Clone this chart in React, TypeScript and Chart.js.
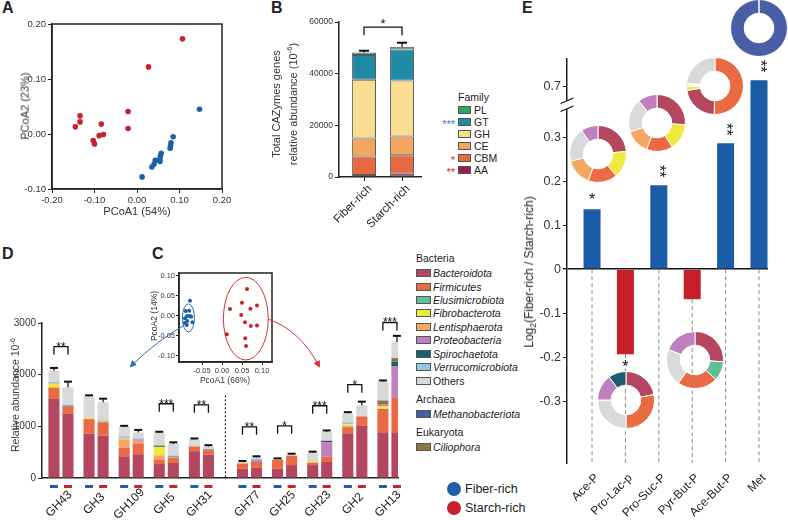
import React, { useEffect, useRef } from "react";
import { Chart, registerables } from "chart.js";

Chart.register(...registerables);

const FONT = "'Liberation Sans', Arial, Helvetica, sans-serif";
Chart.defaults.font.family = FONT;
Chart.defaults.color = "#222";

const FIBER = "#1f5fa9";
const STARCH = "#c8202c";
const E_BLUE = "#1b5ca6";
const E_RED = "#c52029";

// ---------- Panel A ----------
const aFiberX = [0.147, 0.085, 0.080, 0.079, 0.078, 0.057, 0.055, 0.054, 0.054, 0.043, 0.040, 0.035, 0.012];
const aFiberY = [0.045, -0.005, -0.016, -0.021, -0.026, -0.035, -0.040, -0.045, -0.050, -0.048, -0.055, -0.060, -0.078];
const aStarchX = [0.107, 0.027, -0.021, -0.021, -0.134, -0.134, -0.145, -0.084, -0.089, -0.079, -0.103, -0.100];
const aStarchY = [0.173, 0.122, 0.041, 0.010, 0.033, 0.022, 0.013, 0.018, -0.003, -0.001, -0.012, -0.018];
const aTicksX = [-0.2, -0.1, 0, 0.1, 0.2];
const aTicksY = [-0.1, 0, 0.1, 0.2];

// ---------- Panel B ----------
const bGroups = ["Fiber-rich", "Starch-rich"];
const bAA = [780, 1290];
const bCBM = [7110, 7110];
const bCE = [6980, 7250];
const bGH = [22760, 21720];
const bGT = [9570, 12030];
const bPL = [1030, 1030];
const bErr = [650, 1550];
const bSig = "*";
const bSigHeight = 58000;
const bFamilies = ["PL", "GT", "GH", "CE", "CBM", "AA"];
const bFamilyStars = ["", "***", "", "", "*", "**"];
const bFamilyStarColor = ["", "#3b78c4", "", "", "#d8262f", "#d8262f"];
const FAM_COLOR = { AA: "#9d1c4b", CBM: "#e8683f", CE: "#f4a661", GH: "#f9dd91", GT: "#1f8ba6", PL: "#2aa862" };

// ---------- Panel C ----------
const cFiberX = [-0.080, -0.091, -0.082, -0.087, -0.080, -0.077, -0.0925, -0.087, -0.074, -0.093, -0.088];
const cFiberY = [0.0375, 0.0125, 0.013, 0, 0, -0.002, -0.006, -0.0125, -0.016, -0.018, -0.0225];
const cStarchX = [0.0625, 0.05, 0.071, 0.0875, 0.02, 0.048, 0.0575, 0.072, 0.0875, 0.012, 0.058, 0.06];
const cStarchY = [0.067, 0.0325, 0.018, 0.026, 0.017, 0.002, -0.016, -0.025, -0.024, -0.046, -0.056, -0.075];
const cEllipseFiber = [-0.084, -0.005, 0.015, 0.035];
const cEllipseStarch = [0.0595, -0.007, 0.056, 0.103];
const cTicksX = [-0.05, 0, 0.05, 0.1];
const cTicksY = [-0.1, -0.05, 0, 0.05, 0.1];

// ---------- Panel D ----------
const dGroups = ["GH43", "GH3", "GH109", "GH5", "GH31", "GH77", "GH25", "GH23", "GH2", "GH13"];
const dBactF = [1530, 860, 420, 270, 520, 180, 180, 250, 866, 886];
const dBactS = [1240, 820, 460, 290, 450, 200, 250, 310, 1008, 886];
const dFirmF = [220, 280, 170, 90, 80, 100, 170, 40, 117, 452];
const dFirmS = [145, 260, 210, 100, 90, 110, 180, 100, 182, 678];
const dElusF = [0, 0, 0, 0, 0, 0, 0, 0, 0, 0];
const dElusS = [0, 0, 0, 0, 0, 0, 0, 0, 0, 0];
const dLentiF = [0, 0, 160, 80, 20, 0, 0, 15, 32, 0];
const dLentiS = [0, 0, 50, 20, 0, 0, 0, 0, 0, 0];
const dFibroF = [80, 20, 15, 150, 0, 10, 0, 20, 25, 50];
const dFibroS = [0, 15, 0, 0, 0, 0, 0, 0, 0, 0];
const dProteoF = [0, 0, 15, 0, 0, 0, 0, 0, 0, 42];
const dProteoS = [0, 0, 30, 0, 0, 30, 0, 285, 0, 595];
const dSpiroF = [10, 0, 0, 0, 0, 0, 0, 0, 0, 0];
const dSpiroS = [15, 10, 0, 10, 10, 10, 0, 25, 0, 91];
const dVerrF = [20, 0, 30, 10, 10, 0, 0, 0, 40, 0];
const dVerrS = [20, 10, 20, 20, 15, 20, 0, 0, 10, 0];
const dMethF = [0, 0, 0, 0, 0, 0, 0, 0, 0, 0];
const dMethS = [0, 0, 0, 0, 0, 0, 0, 0, 0, 0];
const dCilioF = [0, 0, 0, 30, 0, 0, 0, 0, 0, 70];
const dCilioS = [0, 0, 0, 0, 0, 0, 0, 0, 0, 70];
const dOthersF = [215, 420, 180, 250, 120, 25, 20, 170, 175, 368];
const dOthersS = [330, 350, 110, 220, 45, 30, 20, 170, 203, 311];
const dErrF = [55, 20, 20, 15, 15, 15, 10, 15, 20, 20];
const dErrS = [115, 70, 50, 30, 25, 20, 20, 30, 75, 120];
const dSig = ["**", "", "", "***", "**", "**", "*", "***", "*", "***"];
const dSigHeight = [2544, 0, 0, 1437, 1417, 990, 1010, 1398, 1806, 3010];
const dTicksY = [0, 1000, 2000, 3000];

const PHY = {
  Bacteroidota: "#b4475f",
  Firmicutes: "#ea6a43",
  Elusimicrobiota: "#5ebf96",
  Fibrobacterota: "#efe93b",
  Lentisphaerota: "#f6a862",
  Proteobacteria: "#bf80bf",
  Spirochaetota: "#1b5f6f",
  Verrucomicrobiota: "#93c6e7",
  Others: "#d9d9d9",
  Methanobacteriota: "#4a5ea8",
  Ciliophora: "#8b7541",
};

// stacking order bottom -> top
const dLayers = [
  ["Bacteroidota", dBactF, dBactS],
  ["Firmicutes", dFirmF, dFirmS],
  ["Elusimicrobiota", dElusF, dElusS],
  ["Lentisphaerota", dLentiF, dLentiS],
  ["Fibrobacterota", dFibroF, dFibroS],
  ["Proteobacteria", dProteoF, dProteoS],
  ["Spirochaetota", dSpiroF, dSpiroS],
  ["Verrucomicrobiota", dVerrF, dVerrS],
  ["Methanobacteriota", dMethF, dMethS],
  ["Ciliophora", dCilioF, dCilioS],
  ["Others", dOthersF, dOthersS],
];

const bacteriaLegend = ["Bacteroidota", "Firmicutes", "Elusimicrobiota", "Fibrobacterota", "Lentisphaerota", "Proteobacteria", "Spirochaetota", "Verrucomicrobiota", "Others"];

// ---------- Panel E ----------
const eCats = ["Ace-P", "Pro-Lac-p", "Pro-Suc-P", "Pyr-But-P", "Ace-But-P", "Met"];
const eValues = [0.136, -0.193, 0.191, -0.068, 0.286, 0.715];
const eSig = ["*", "*", "**", "", "**", "**"];
const eTicksLow = [-0.3, -0.2, -0.1, 0, 0.1, 0.2, 0.3];
const eTicksHigh = [0.7];

const donutAcePLabels = ["Bacteroidota", "Fibrobacterota", "Firmicutes", "Lentisphaerota", "Others", "Proteobacteria"];
const donutAcePValues = [23.6, 15.3, 16.7, 15.3, 19.4, 9.7];
const donutProLacLabels = ["Bacteroidota", "Firmicutes", "Others", "Proteobacteria", "Spirochaetota"];
const donutProLacValues = [22, 28, 25, 15, 10];
const donutProSucLabels = ["Bacteroidota", "Fibrobacterota", "Firmicutes", "Lentisphaerota", "Others", "Proteobacteria"];
const donutProSucValues = [26, 15, 15, 14, 19, 11];
const donutPyrButLabels = ["Bacteroidota", "Elusimicrobiota", "Firmicutes", "Others", "Proteobacteria"];
const donutPyrButValues = [26, 11, 23, 21, 19];
const donutAceButLabels = ["Firmicutes", "Bacteroidota", "Fibrobacterota", "Spirochaetota", "Verrucomicrobiota", "Proteobacteria", "Others"];
const donutAceButValues = [50.5, 22, 2.2, 0.8, 0.5, 0.8, 23.2];
const donutMetLabels = ["Methanobacteriota"];
const donutMetValues = [100];

// ---------- helpers ----------
const fmt2 = (v) => (Math.abs(v) < 1e-9 ? "0.00" : Number(v).toFixed(2));
const fmt1 = (v) => (Math.abs(v) < 1e-9 ? "0" : Number(v).toFixed(1));
const fmt0 = (v) => String(Math.round(v));
const setTicks = (list) => (axis) => {
  axis.ticks = list.map((value) => ({ value }));
};
const fixW = (w) => (s) => {
  s.width = w;
  s.paddingTop = 0;
  s.paddingBottom = 0;
};
const fixH = (h) => (s) => {
  s.height = h;
};
const BASE = {
  animation: false,
  responsive: false,
  events: [],
  plugins: { legend: { display: false }, tooltip: { enabled: false } },
};

const framePlugin = {
  id: "frame",
  afterDraw(chart) {
    const { ctx, chartArea: a } = chart;
    ctx.save();
    ctx.strokeStyle = "#222";
    ctx.lineWidth = 1.5;
    ctx.strokeRect(a.left, a.top, a.right - a.left, a.bottom - a.top);
    ctx.restore();
  },
};

function ChartBox({ x, y, w, h, config }) {
  const ref = useRef(null);
  useEffect(() => {
    const chart = new Chart(ref.current, config());
    return () => chart.destroy();
  }, []);
  return (
    <canvas
      ref={ref}
      width={w}
      height={h}
      style={{ position: "absolute", left: x, top: y, width: w, height: h }}
    />
  );
}

// ---------- configs ----------
const configA = () => ({
  type: "scatter",
  data: {
    datasets: [
      { data: aStarchX.map((v, i) => ({ x: v, y: aStarchY[i] })), backgroundColor: STARCH, borderWidth: 0, pointRadius: 2.8 },
      { data: aFiberX.map((v, i) => ({ x: v, y: aFiberY[i] })), backgroundColor: FIBER, borderWidth: 0, pointRadius: 2.8 },
    ],
  },
  options: {
    ...BASE,
    layout: { padding: { left: 0, top: 24, right: 18, bottom: 0 } },
    scales: {
      x: {
        type: "linear", min: -0.2, max: 0.2, afterBuildTicks: setTicks(aTicksX), afterFit: fixH(36),
        ticks: { callback: (v) => fmt2(v), font: { size: 9.5 }, color: "#333", padding: 2 },
        grid: { drawOnChartArea: false, tickLength: 4, color: "#222" },
        border: { color: "#222", width: 1.5 },
      },
      y: {
        type: "linear", min: -0.1, max: 0.2, afterBuildTicks: setTicks(aTicksY), afterFit: fixW(52),
        ticks: { callback: (v) => fmt2(v), font: { size: 9.5 }, color: "#333", padding: 2 },
        grid: { drawOnChartArea: false, tickLength: 4, color: "#222" },
        border: { color: "#222", width: 1.5 },
      },
    },
  },
  plugins: [framePlugin],
});

const bPlugin = {
  id: "bAnn",
  afterDatasetsDraw(chart) {
    const { ctx, scales: { y } } = chart;
    const meta = chart.getDatasetMeta(0);
    const layers = [bAA, bCBM, bCE, bGH, bGT, bPL];
    ctx.save();
    ctx.strokeStyle = "#111";
    const xs = meta.data.map((b) => b.x);
    xs.forEach((bx, i) => {
      const tot = layers.reduce((s, l) => s + l[i], 0);
      const y0 = y.getPixelForValue(tot);
      const y1 = y.getPixelForValue(tot + bErr[i]);
      ctx.lineWidth = 1.3;
      ctx.beginPath(); ctx.moveTo(bx, y0); ctx.lineTo(bx, y1); ctx.stroke();
      ctx.lineWidth = 2;
      ctx.beginPath(); ctx.moveTo(bx - 5, y1); ctx.lineTo(bx + 5, y1); ctx.stroke();
    });
    const yb = y.getPixelForValue(bSigHeight);
    ctx.lineWidth = 1.3;
    ctx.beginPath();
    ctx.moveTo(xs[0], yb + 8); ctx.lineTo(xs[0], yb); ctx.lineTo(xs[1], yb); ctx.lineTo(xs[1], yb + 8);
    ctx.stroke();
    ctx.fillStyle = "#111";
    ctx.font = `13px ${FONT}`;
    ctx.textAlign = "center";
    ctx.textBaseline = "alphabetic";
    ctx.fillText(bSig, (xs[0] + xs[1]) / 2, yb + 1);
    ctx.restore();
  },
};

const configB = () => {
  const fams = [["AA", bAA], ["CBM", bCBM], ["CE", bCE], ["GH", bGH], ["GT", bGT], ["PL", bPL]];
  return {
    type: "bar",
    data: {
      datasets: fams.map(([name, arr]) => ({
        label: name,
        data: arr.map((v, i) => ({ x: i, y: v })),
        backgroundColor: FAM_COLOR[name],
        borderColor: "#5a5a5a",
        borderWidth: 1,
        borderSkipped: false,
        barPercentage: 0.63,
        categoryPercentage: 1,
      })),
    },
    options: {
      ...BASE,
      layout: { padding: { left: 0, top: 22, right: 9, bottom: 0 } },
      scales: {
        x: {
          type: "linear", offset: false, stacked: true, min: -0.66, max: 1.5, afterBuildTicks: setTicks([0, 1]), afterFit: fixH(53),
          ticks: { callback: (v, i) => bGroups[i], autoSkip: false, minRotation: 45, maxRotation: 45, font: { size: 11.5 }, padding: 1, labelOffset: 6 },
          grid: { drawOnChartArea: false, offset: false, tickLength: 4, color: "#222" },
          border: { color: "#222", width: 1.5 },
        },
        y: {
          type: "linear", stacked: true, min: 0, max: 60000, afterFit: fixW(99),
          ticks: { stepSize: 20000, callback: (v) => fmt0(v), font: { size: 8.5 }, color: "#333", padding: 2 },
          grid: { drawOnChartArea: false, tickLength: 4, color: "#222" },
          border: { color: "#222", width: 1.5 },
        },
      },
    },
    plugins: [bPlugin],
  };
};

const cPlugin = {
  id: "cEll",
  afterDatasetsDraw(chart) {
    const { ctx, scales: { x, y } } = chart;
    ctx.save();
    [[cEllipseFiber, "#2a6fb8"], [cEllipseStarch, "#d3313a"]].forEach(([e, col]) => {
      const cx = x.getPixelForValue(e[0]);
      const cy = y.getPixelForValue(e[1]);
      const rx = x.getPixelForValue(e[0] + e[2]) - cx;
      const ry = cy - y.getPixelForValue(e[1] + e[3]);
      ctx.strokeStyle = col;
      ctx.lineWidth = 1;
      ctx.beginPath();
      ctx.ellipse(cx, cy, rx, ry, 0, 0, Math.PI * 2);
      ctx.stroke();
    });
    ctx.restore();
  },
};

const configC = () => ({
  type: "scatter",
  data: {
    datasets: [
      { data: cFiberX.map((v, i) => ({ x: v, y: cFiberY[i] })), backgroundColor: FIBER, borderWidth: 0, pointRadius: 2 },
      { data: cStarchX.map((v, i) => ({ x: v, y: cStarchY[i] })), backgroundColor: STARCH, borderWidth: 0, pointRadius: 2 },
    ],
  },
  options: {
    ...BASE,
    layout: { padding: { left: 0, top: 11, right: 8, bottom: 0 } },
    scales: {
      x: {
        type: "linear", min: -0.1075, max: 0.125, afterBuildTicks: setTicks(cTicksX), afterFit: fixH(30),
        ticks: { callback: (v) => fmt2(v), font: { size: 7.5 }, color: "#333", padding: 1 },
        grid: { drawOnChartArea: false, tickLength: 3, color: "#222" },
        border: { color: "#222", width: 1.5 },
      },
      y: {
        type: "linear", min: -0.115, max: 0.107, afterBuildTicks: setTicks(cTicksY), afterFit: fixW(29),
        ticks: { callback: (v) => fmt2(v), font: { size: 7.5 }, color: "#333", padding: 1 },
        grid: { drawOnChartArea: false, tickLength: 3, color: "#222" },
        border: { color: "#222", width: 1.5 },
      },
    },
  },
  plugins: [framePlugin, cPlugin],
});

const D_GAP = 0.37;
const dPos = (i) => (i < 5 ? i : i + D_GAP);
const dTotal = (k, i) => dLayers.reduce((s, L) => s + L[k][i], 0);

const dPlugin = {
  id: "dAnn",
  afterDatasetsDraw(chart) {
    const { ctx, chartArea: a, scales: { x, y } } = chart;
    const n = dLayers.length;
    const mF = chart.getDatasetMeta(0);
    const mS = chart.getDatasetMeta(n);
    ctx.save();
    dGroups.forEach((g, i) => {
      const xf = mF.data[i].x;
      const xs = mS.data[i].x;
      ctx.fillStyle = FIBER;
      ctx.fillRect(xf - 4, a.bottom + 7, 8, 3);
      ctx.fillStyle = STARCH;
      ctx.fillRect(xs - 4, a.bottom + 7, 8, 3);
      [[xf, dTotal(1, i), dErrF[i]], [xs, dTotal(2, i), dErrS[i]]].forEach(([bx, t, e]) => {
        const y0 = y.getPixelForValue(t);
        const y1 = y.getPixelForValue(t + e);
        ctx.strokeStyle = "#111";
        ctx.lineWidth = 1.2;
        ctx.beginPath(); ctx.moveTo(bx, y0); ctx.lineTo(bx, y1); ctx.stroke();
        ctx.lineWidth = 2;
        ctx.beginPath(); ctx.moveTo(bx - 4, y1); ctx.lineTo(bx + 4, y1); ctx.stroke();
      });
      if (dSig[i]) {
        const yb = y.getPixelForValue(dSigHeight[i]);
        ctx.strokeStyle = "#111";
        ctx.lineWidth = 1.3;
        ctx.beginPath();
        ctx.moveTo(xf, yb + 8); ctx.lineTo(xf, yb); ctx.lineTo(xs, yb); ctx.lineTo(xs, yb + 8);
        ctx.stroke();
        ctx.fillStyle = "#111";
        ctx.font = `12px ${FONT}`;
        ctx.textAlign = "center";
        ctx.textBaseline = "alphabetic";
        ctx.fillText(dSig[i], (xf + xs) / 2, yb + 4);
      }
      ctx.save();
      ctx.translate((xf + xs) / 2 - 2, a.bottom + 26);
      ctx.rotate(-Math.PI / 4);
      ctx.font = `12px ${FONT}`;
      ctx.fillStyle = "#222";
      ctx.textAlign = "center";
      ctx.textBaseline = "middle";
      ctx.fillText(g, 0, 0);
      ctx.restore();
    });
    const xd = (x.getPixelForValue(dPos(4)) + x.getPixelForValue(dPos(5))) / 2;
    ctx.strokeStyle = "#222";
    ctx.lineWidth = 1.2;
    ctx.setLineDash([2, 2]);
    ctx.beginPath();
    ctx.moveTo(xd, y.getPixelForValue(1600));
    ctx.lineTo(xd, a.bottom);
    ctx.stroke();
    ctx.restore();
  },
};

const configD = () => {
  const mk = (k, stack) =>
    dLayers.map((L) => ({
      label: L[0],
      stack,
      data: L[k].map((v, i) => ({ x: dPos(i), y: v })),
      backgroundColor: PHY[L[0]],
      borderWidth: 0,
      barPercentage: 0.79,
      categoryPercentage: 0.8,
    }));
  return {
    type: "bar",
    data: { datasets: [...mk(1, "F"), ...mk(2, "S")] },
    options: {
      ...BASE,
      layout: { padding: { left: 0, top: 83, right: 14, bottom: 0 } },
      scales: {
        x: {
          type: "linear", offset: false, stacked: true, min: -0.54, max: 9.6,
          afterBuildTicks: setTicks(dGroups.map((_, i) => dPos(i))), afterFit: fixH(42),
          ticks: { display: false },
          grid: { display: false, drawTicks: false, offset: false },
          border: { color: "#222", width: 1.5 },
        },
        y: {
          type: "linear", stacked: true, min: 0, max: 3000, afterBuildTicks: setTicks(dTicksY), afterFit: fixW(42),
          ticks: { callback: (v) => fmt0(v), font: { size: 10 }, color: "#333", padding: 2 },
          grid: { drawOnChartArea: false, tickLength: 4, color: "#222" },
          border: { color: "#222", width: 1.5 },
        },
      },
    },
    plugins: [dPlugin],
  };
};

const eStarPlugin = {
  id: "eStars",
  afterDatasetsDraw(chart) {
    const { ctx, chartArea: a } = chart;
    const meta = chart.getDatasetMeta(0);
    ctx.save();
    ctx.fillStyle = "#111";
    ctx.font = `16px ${FONT}`;
    ctx.textAlign = "center";
    ctx.textBaseline = "middle";
    meta.data.forEach((bar, i) => {
      const s = eSig[i];
      if (!s) return;
      const v = eValues[i];
      if (bar.y < a.top - 1 || bar.y > a.bottom + 1) return;
      if (s.length > 1) {
        ctx.save();
        ctx.translate(bar.x, v >= 0 ? bar.y - 14 : bar.y + 14);
        ctx.rotate(Math.PI / 2);
        ctx.fillText(s, 0, 0);
        ctx.restore();
      } else {
        ctx.fillText(s, bar.x, v >= 0 ? bar.y - 9 : bar.y + 13);
      }
    });
    ctx.restore();
  },
};

const eDashPlugin = {
  id: "eDash",
  beforeDatasetsDraw(chart) {
    const { ctx, chartArea: a, scales: { y } } = chart;
    const meta = chart.getDatasetMeta(0);
    const zero = y.getPixelForValue(0);
    ctx.save();
    ctx.strokeStyle = "#8a8a8a";
    ctx.lineWidth = 1;
    ctx.setLineDash([4, 3]);
    meta.data.forEach((bar, i) => {
      const start = eValues[i] >= 0 ? zero : bar.y;
      ctx.beginPath();
      ctx.moveTo(bar.x, start);
      ctx.lineTo(bar.x, a.bottom);
      ctx.stroke();
    });
    ctx.restore();
  },
};

const eDataset = () => ({
  data: eValues.map((v, i) => ({ x: i, y: v })),
  backgroundColor: eValues.map((v) => (v >= 0 ? E_BLUE : E_RED)),
  borderWidth: 0,
  barPercentage: 0.51,
  categoryPercentage: 1,
  clip: 0,
});

const configELow = () => ({
  type: "bar",
  data: { datasets: [eDataset()] },
  options: {
    ...BASE,
    layout: { padding: { left: 0, top: 5, right: 20, bottom: 0 } },
    scales: {
      x: {
        type: "linear", offset: false, min: -0.75, max: 5.27, afterBuildTicks: setTicks(eCats.map((_, i) => i)), afterFit: fixH(57),
        ticks: { callback: (v, i) => eCats[i], autoSkip: false, minRotation: 45, maxRotation: 45, font: { size: 12 }, padding: 8, labelOffset: 5 },
        grid: { display: false, drawTicks: false, offset: false },
        border: { display: false },
      },
      y: {
        type: "linear", min: -0.44, max: 0.373, afterBuildTicks: setTicks(eTicksLow), afterFit: fixW(47),
        ticks: { callback: (v) => fmt1(v), font: { size: 12.5 }, color: "#333", padding: 2 },
        grid: {
          drawOnChartArea: true,
          tickLength: 4,
          tickColor: "#222",
          color: (c) => (c.tick && Math.abs(c.tick.value) < 1e-9 ? "#111" : "rgba(0,0,0,0)"),
          lineWidth: (c) => (c.tick && Math.abs(c.tick.value) < 1e-9 ? 1.5 : 1),
        },
        border: { color: "#222", width: 1.5 },
      },
    },
  },
  plugins: [eDashPlugin, eStarPlugin],
});

const configEHigh = () => ({
  type: "bar",
  data: { datasets: [eDataset()] },
  options: {
    ...BASE,
    layout: { padding: { left: 0, top: 9, right: 20, bottom: 0 } },
    scales: {
      x: { type: "linear", offset: false, display: false, min: -0.75, max: 5.27, afterBuildTicks: setTicks(eCats.map((_, i) => i)), grid: { offset: false } },
      y: {
        type: "linear", min: 0.66, max: 0.762, afterBuildTicks: setTicks(eTicksHigh), afterFit: fixW(47),
        ticks: { callback: (v) => fmt1(v), font: { size: 12.5 }, color: "#333", padding: 2 },
        grid: { drawOnChartArea: false, tickLength: 4, color: "#222" },
        border: { color: "#222", width: 1.5 },
      },
    },
  },
  plugins: [eStarPlugin],
});

const donutConfig = (labels, values) => () => ({
  type: "doughnut",
  data: {
    labels,
    datasets: [{ data: values, backgroundColor: labels.map((l) => PHY[l]), borderColor: "#fff", borderWidth: 1 }],
  },
  options: { ...BASE, cutout: "52%", layout: { padding: 0 } },
});

// ---------- text helpers ----------
function Txt({ x, y, size = 11, anchor = "start", rot = 0, italic = false, bold = false, color = "#222", children }) {
  const tx = anchor === "start" ? "0%" : anchor === "middle" ? "-50%" : "-100%";
  return (
    <div
      style={{
        position: "absolute", left: x, top: y,
        transform: `translate(${tx}, -50%) rotate(${rot}deg)`,
        fontSize: size, fontStyle: italic ? "italic" : "normal", fontWeight: bold ? 700 : 400,
        color, whiteSpace: "nowrap", lineHeight: 1.15, fontFamily: FONT,
      }}
    >
      {children}
    </div>
  );
}

const Sup = ({ children }) => (
  <span style={{ fontSize: "0.7em", verticalAlign: "super", lineHeight: 0 }}>{children}</span>
);

function Swatch({ x, y, w, h, color }) {
  return (
    <div style={{ position: "absolute", left: x, top: y - h / 2, width: w - 2, height: h - 2, background: color, border: "1px solid #555" }} />
  );
}

const Donut = ({ cx, cy, labels, values }) => (
  <ChartBox x={cx - 29} y={cy - 29} w={58} h={58} config={donutConfig(labels, values)} />
);

export default function App() {
  const famY = [110, 122, 134, 146, 158, 170];
  const bactY = [273, 287, 300, 313, 327, 340, 354, 367, 381];
  return (
    <div style={{ position: "fixed", left: 0, top: 0, width: 788, height: 520, background: "#fff", overflow: "hidden", fontFamily: FONT, color: "#222" }}>
      {/* panel letters */}
      <Txt x={2} y={8} size={16} bold>A</Txt>
      <Txt x={271} y={8} size={16} bold>B</Txt>
      <Txt x={522} y={8} size={16} bold>E</Txt>
      <Txt x={2} y={254} size={16} bold>D</Txt>
      <Txt x={152} y={254} size={16} bold>C</Txt>

      {/* A */}
      <ChartBox x={0} y={0} w={240} h={225} config={configA} />
      <Txt x={137} y={211} size={11} anchor="middle" color="#333">PCoA1 (54%)</Txt>
      <Txt x={25} y={106} size={11} anchor="middle" rot={-90} color="#333">PCoA2 (23%)</Txt>

      {/* B */}
      <ChartBox x={240} y={0} w={190} h={230} config={configB} />
      <Txt x={276} y={104} size={11} anchor="middle" rot={-90} color="#333">Total CAZymes genes</Txt>
      <Txt x={293} y={104} size={11} anchor="middle" rot={-90} color="#333">relative abundance (10<Sup>-6</Sup>)</Txt>
      <Txt x={458} y={97} size={10.5}>Family</Txt>
      {bFamilies.map((f, k) => (
        <React.Fragment key={f}>
          <Swatch x={458} y={famY[k]} w={13} h={8} color={FAM_COLOR[f]} />
          <Txt x={474} y={famY[k]} size={10.5}>{f}</Txt>
          {bFamilyStars[k] ? (
            <Txt x={455} y={famY[k] + 2} size={11} anchor="end" color={bFamilyStarColor[k]}>{bFamilyStars[k]}</Txt>
          ) : null}
        </React.Fragment>
      ))}

      {/* D */}
      <ChartBox x={0} y={240} w={412} h={280} config={configD} />
      <Txt x={15} y={395} size={10.5} anchor="middle" rot={-90} color="#333">Relative abundance 10<Sup>-6</Sup></Txt>

      {/* D legend */}
      <Txt x={416} y={258} size={10.5}>Bacteria</Txt>
      {bacteriaLegend.map((p, k) => (
        <React.Fragment key={p}>
          <Swatch x={416} y={bactY[k]} w={15} h={8} color={PHY[p]} />
          <Txt x={433} y={bactY[k]} size={10.5} italic={p !== "Others"}>{p}</Txt>
        </React.Fragment>
      ))}
      <Txt x={416} y={399} size={10.5}>Archaea</Txt>
      <Swatch x={416} y={414} w={15} h={8} color={PHY.Methanobacteriota} />
      <Txt x={433} y={414} size={10.5} italic>Methanobacteriota</Txt>
      <Txt x={416} y={432} size={10.5}>Eukaryota</Txt>
      <Swatch x={416} y={447} w={15} h={8} color={PHY.Ciliophora} />
      <Txt x={433} y={447} size={10.5} italic>Ciliophora</Txt>

      <div style={{ position: "absolute", left: 447, top: 482, width: 14, height: 14, borderRadius: 7, background: FIBER }} />
      <Txt x={465} y={489} size={12.5}>Fiber-rich</Txt>
      <div style={{ position: "absolute", left: 447, top: 501, width: 14, height: 14, borderRadius: 7, background: STARCH }} />
      <Txt x={465} y={508} size={12.5}>Starch-rich</Txt>

      {/* C */}
      <div style={{ position: "absolute", left: 175, top: 268, width: 102, height: 100, background: "#fff" }} />
      <ChartBox x={150} y={262} w={130} h={130} config={configC} />
      <Txt x={225} y={381} size={8.5} anchor="middle" color="#333">PcoA1 (66%)</Txt>
      <Txt x={155} y={316} size={8.5} anchor="middle" rot={-90} color="#333">PcoA2 (14%)</Txt>
      <svg width={788} height={520} style={{ position: "absolute", left: 0, top: 0, pointerEvents: "none" }}>
        <defs>
          <marker id="mb" markerWidth="7" markerHeight="7" refX="5" refY="3.5" orient="auto" markerUnits="userSpaceOnUse">
            <path d="M0,0 L7,3.5 L0,7 z" fill="#2a6fb8" />
          </marker>
          <marker id="mr" markerWidth="7" markerHeight="7" refX="5" refY="3.5" orient="auto" markerUnits="userSpaceOnUse">
            <path d="M0,0 L7,3.5 L0,7 z" fill="#d3313a" />
          </marker>
        </defs>
        <path d="M183,326 Q158,340 131,366" stroke="#2a6fb8" strokeWidth="1" fill="none" markerEnd="url(#mb)" />
        <path d="M268,319 Q300,330 319,366" stroke="#d3313a" strokeWidth="1" fill="none" markerEnd="url(#mr)" />
      </svg>

      {/* E */}
      <ChartBox x={520} y={100} w={268} h={420} config={configELow} />
      <ChartBox x={520} y={50} w={268} h={55} config={configEHigh} />
      <svg width={40} height={30} style={{ position: "absolute", left: 550, top: 90 }}>
        <rect x={12} y={11} width={10} height={8} fill="#fff" />
        <line x1={10.5} y1={13.5} x2={23.5} y2={8} stroke="#111" strokeWidth="1.3" />
        <line x1={10.5} y1={21.5} x2={23.5} y2={16} stroke="#111" strokeWidth="1.3" />
      </svg>
      <Txt x={530} y={272} size={12} anchor="middle" rot={-90} color="#222">
        Log<span style={{ fontSize: "0.7em", verticalAlign: "sub", lineHeight: 0 }}>2</span>(Fiber-rich / Starch-rich)
      </Txt>
      <Donut cx={598} cy={154} labels={donutAcePLabels} values={donutAcePValues} />
      <Donut cx={657} cy={123} labels={donutProSucLabels} values={donutProSucValues} />
      <Donut cx={715} cy={86} labels={donutAceButLabels} values={donutAceButValues} />
      <Donut cx={759} cy={28} labels={donutMetLabels} values={donutMetValues} />
      <Donut cx={626} cy={400} labels={donutProLacLabels} values={donutProLacValues} />
      <Donut cx={695} cy={360} labels={donutPyrButLabels} values={donutPyrButValues} />
    </div>
  );
}
